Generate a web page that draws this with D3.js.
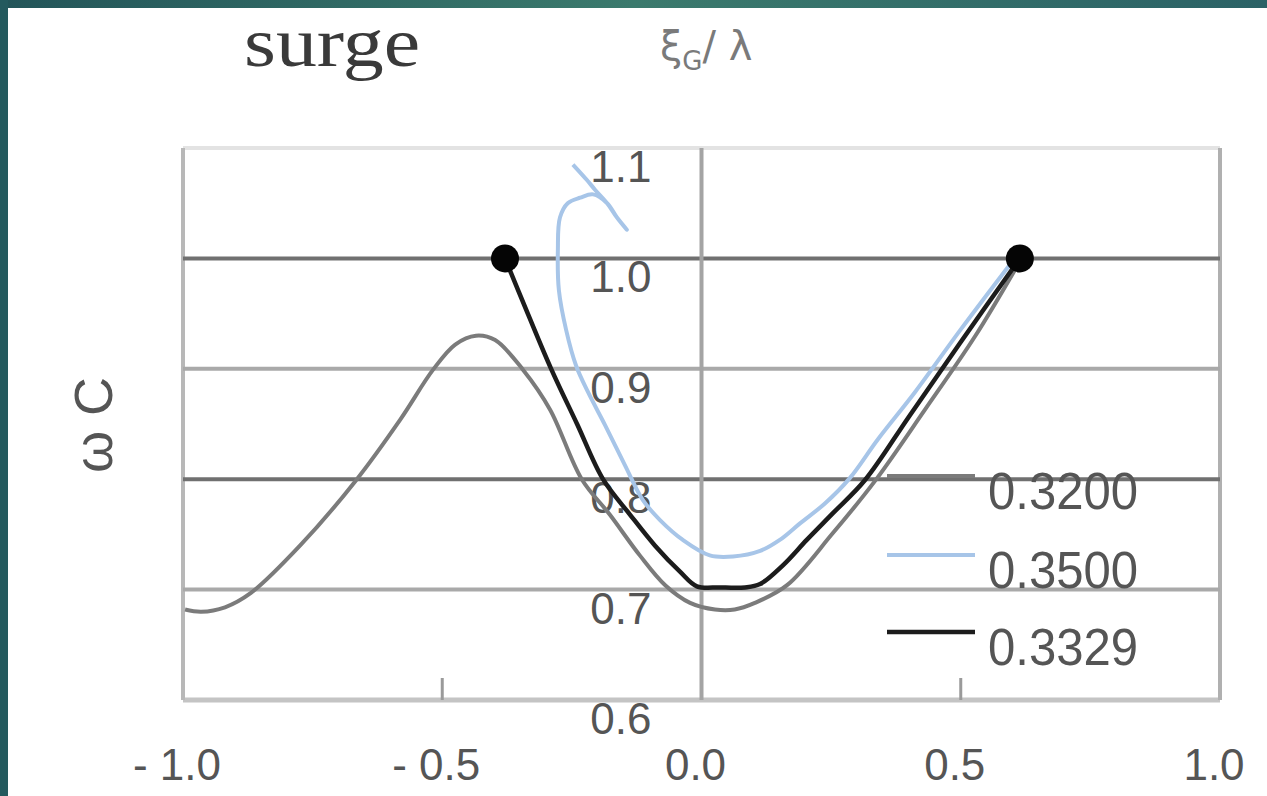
<!DOCTYPE html>
<html>
<head>
<meta charset="utf-8">
<script src="https://cdn.jsdelivr.net/npm/d3@7"></script>
<style>
  body { margin: 0; background: #fff; }
  svg { display: block; }
</style>
</head>
<body>
<svg id="chart" width="1267" height="796"></svg>
<script>
// Axis ticks
var xTicks = [-1.0, -0.5, 0.0, 0.5, 1.0];
var xTickLabels = ['- 1.0', '- 0.5', '0.0', '0.5', '1.0'];
var yTicks = [1.1, 1.0, 0.9, 0.8, 0.7, 0.6];
var yTickLabels = ['1.1', '1.0', '0.9', '0.8', '0.7', '0.6'];
var gridLevels = [1.0, 0.9, 0.8, 0.7];

// Series names (legend order)
var seriesNames = ['0.3200', '0.3500', '0.3329'];

// xi_G/lambda , U/C  for 0.3200
var s3200 = [
  [-0.996, 0.682], [-0.965, 0.680], [-0.919, 0.684], [-0.869, 0.697], [-0.774, 0.740],
  [-0.668, 0.798], [-0.581, 0.854], [-0.518, 0.899], [-0.475, 0.922], [-0.435, 0.930],
  [-0.398, 0.926], [-0.344, 0.899], [-0.292, 0.863], [-0.231, 0.800], [-0.177, 0.768],
  [-0.119, 0.731], [-0.070, 0.704], [-0.022, 0.688], [0.026, 0.682], [0.064, 0.682],
  [0.103, 0.688], [0.165, 0.704], [0.253, 0.751], [0.334, 0.798], [0.431, 0.863],
  [0.527, 0.929], [0.605, 0.990]
];

// 0.3500 (runs from the right end round the loop near 1.05)
var s3500 = [
  [0.599, 0.997], [0.499, 0.935], [0.412, 0.879], [0.340, 0.836], [0.286, 0.801],
  [0.238, 0.778], [0.190, 0.760], [0.151, 0.745], [0.113, 0.735], [0.061, 0.730],
  [0.016, 0.731], [-0.036, 0.745], [-0.080, 0.763], [-0.113, 0.781], [-0.148, 0.813],
  [-0.186, 0.849], [-0.219, 0.879], [-0.242, 0.903], [-0.261, 0.935], [-0.275, 0.971],
  [-0.277, 1.008], [-0.273, 1.037], [-0.258, 1.050], [-0.234, 1.055], [-0.209, 1.058],
  [-0.182, 1.050], [-0.163, 1.037], [-0.144, 1.026], [-0.163, 1.037], [-0.182, 1.050],
  [-0.205, 1.062], [-0.221, 1.071], [-0.248, 1.085]
];

// 0.3329
var s3329 = [
  [-0.379, 1.000], [-0.335, 0.950], [-0.290, 0.900], [-0.240, 0.850], [-0.190, 0.800],
  [-0.138, 0.768], [-0.090, 0.740], [-0.041, 0.716], [-0.009, 0.703], [0.036, 0.702],
  [0.084, 0.702], [0.113, 0.705], [0.157, 0.722], [0.203, 0.745], [0.253, 0.769],
  [0.315, 0.799], [0.402, 0.858], [0.498, 0.923], [0.614, 1.000]
];

// end points of the 0.3329 line
var dots = [[-0.379, 1.000], [0.614, 1.000]];

var svg = d3.select('#chart');

// teal frame
var grad = svg.append('defs').append('linearGradient').attr('id', 'frame');
grad.append('stop').attr('offset', '0%').attr('stop-color', '#235559');
grad.append('stop').attr('offset', '50%').attr('stop-color', '#3b7a6d');
grad.append('stop').attr('offset', '100%').attr('stop-color', '#2b6266');
svg.append('rect').attr('x', 0).attr('y', 0).attr('width', 1267).attr('height', 8).attr('fill', 'url(#frame)');
svg.append('rect').attr('x', 0).attr('y', 0).attr('width', 8).attr('height', 796).attr('fill', '#245a5e');

var x = d3.scaleLinear().domain([-1, 1]).range([183, 1220]);
var y = d3.scaleLinear().domain([0.6, 1.1]).range([700, 148]);

var g = svg.append('g');

// plot border
g.append('line').attr('x1', x(-1)).attr('x2', x(1)).attr('y1', y(1.1)).attr('y2', y(1.1))
  .attr('stroke', '#e3e3e3').attr('stroke-width', 4);
g.append('line').attr('x1', x(-1)).attr('x2', x(1)).attr('y1', y(0.6)).attr('y2', y(0.6))
  .attr('stroke', '#c4c4c4').attr('stroke-width', 5);
g.append('line').attr('x1', x(-1)).attr('x2', x(-1)).attr('y1', y(1.1)).attr('y2', y(0.6))
  .attr('stroke', '#b8b8b8').attr('stroke-width', 4);
g.append('line').attr('x1', x(1)).attr('x2', x(1)).attr('y1', y(1.1)).attr('y2', y(0.6))
  .attr('stroke', '#b0b0b0').attr('stroke-width', 4);

// grid lines
g.selectAll('.grid').data(gridLevels).enter().append('line')
  .attr('class', 'grid')
  .attr('x1', x(-1)).attr('x2', x(1))
  .attr('y1', function(d) { return y(d); })
  .attr('y2', function(d) { return y(d); })
  .attr('stroke', function(d, i) { return i % 2 == 0 ? '#707070' : '#a9a9a9'; })
  .attr('stroke-width', 4);

// vertical axis at 0
g.append('line').attr('x1', x(0)).attr('x2', x(0)).attr('y1', y(1.1)).attr('y2', y(0.6))
  .attr('stroke', '#a4a4a4').attr('stroke-width', 4);

// small ticks on bottom
g.selectAll('.xtick').data([-0.5, 0.5]).enter().append('line')
  .attr('x1', function(d) { return x(d); }).attr('x2', function(d) { return x(d); })
  .attr('y1', y(0.6) - 22).attr('y2', y(0.6))
  .attr('stroke', '#9a9a9a').attr('stroke-width', 3);

// y tick labels beside the zero line
g.selectAll('.ylab').data(yTicks).enter().append('text')
  .attr('x', x(0) - 50).attr('y', function(d) { return y(d) + 34; })
  .attr('text-anchor', 'end')
  .style('font-family', 'Liberation Sans, Arial, sans-serif')
  .style('font-size', '44px')
  .style('fill', '#555')
  .text(function(d, i) { return yTickLabels[i]; });

// x tick labels
g.selectAll('.xlab').data(xTicks).enter().append('text')
  .attr('x', function(d) { return x(d) - 6; }).attr('y', 780)
  .attr('text-anchor', 'middle')
  .style('font-family', 'Liberation Sans, Arial, sans-serif')
  .style('font-size', '44px')
  .style('fill', '#555')
  .text(function(d, i) { return xTickLabels[i]; });

// curves
var line = d3.line()
  .x(function(d) { return x(d[0]); })
  .y(function(d) { return y(d[1]); })
  .curve(d3.curveCatmullRom.alpha(0.5));

var series = [
  {name: seriesNames[0], data: s3200, color: '#7b7b7b', w: 4},
  {name: seriesNames[1], data: s3500, color: '#a7c5e8', w: 4},
  {name: seriesNames[2], data: s3329, color: '#1c1c1c', w: 4.5}
];

g.selectAll('.curve').data(series).enter().append('path')
  .attr('d', function(d) { return line(d.data); })
  .style('fill', 'none')
  .style('stroke', function(d) { return d.color; })
  .style('stroke-width', function(d) { return d.w; })
  .style('stroke-linejoin', 'round');

g.selectAll('.dot').data(dots).enter().append('circle')
  .attr('cx', function(d) { return x(d[0]); })
  .attr('cy', function(d) { return y(d[1]); })
  .attr('r', 14)
  .style('fill', '#050505');

// legend
var legY = [476, 555, 632];
var leg = g.selectAll('.leg').data(series).enter().append('g')
  .attr('transform', function(d, i) { return 'translate(887,' + legY[i] + ')'; });
leg.append('line').attr('x1', 0).attr('x2', 88).attr('y1', 0).attr('y2', 0)
  .style('stroke', function(d) { return d.color; })
  .style('stroke-width', function(d) { return d.w; });
leg.append('text')
  .attr('x', 101).attr('y', 33)
  .attr('textLength', 150).attr('lengthAdjust', 'spacingAndGlyphs')
  .style('font-family', 'Liberation Sans, Arial, sans-serif')
  .style('font-size', '52px')
  .style('fill', '#555')
  .text(function(d) { return d.name; });

// titles
svg.append('text').attr('x', 244).attr('y', 66)
  .attr('textLength', 176).attr('lengthAdjust', 'spacingAndGlyphs')
  .style('font-family', 'Liberation Serif, Times New Roman, serif')
  .style('font-size', '70px')
  .style('fill', '#3a3a3a')
  .text('surge');

var xl = svg.append('text').attr('x', 660).attr('y', 60)
  .style('font-family', 'DejaVu Sans, sans-serif')
  .style('font-size', '40px')
  .style('fill', '#7a7a7a');
xl.append('tspan').text('ξ');
xl.append('tspan').attr('dy', 10).style('font-size', '26px').text('G');
xl.append('tspan').attr('dy', -10).text('/ λ');

// y label
svg.append('text')
  .attr('transform', 'translate(112,425) rotate(-90)')
  .attr('text-anchor', 'middle')
  .style('font-family', 'Liberation Sans, Arial, sans-serif')
  .style('font-size', '54px')
  .style('fill', '#555')
  .text('ω C');
</script>
</body>
</html>
